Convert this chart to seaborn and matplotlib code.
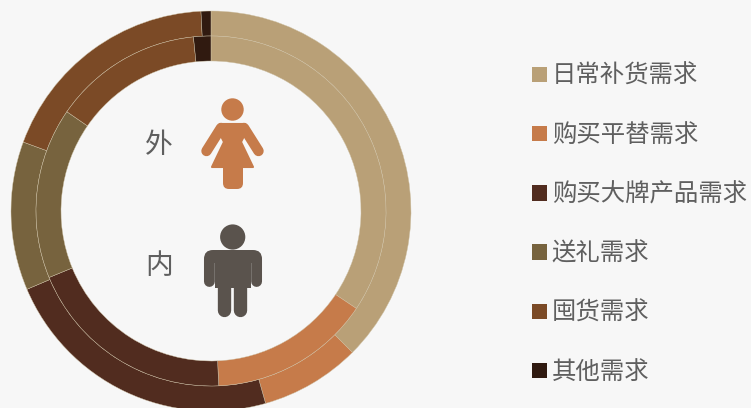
import matplotlib
matplotlib.use('Agg')
import matplotlib.pyplot as plt
import matplotlib.patches as mpatches
from matplotlib.path import Path
import seaborn as sns

categories = ['日常补货需求', '购买平替需求', '购买大牌产品需求', '送礼需求', '囤货需求', '其他需求']
outer_values = [37.5, 8.1, 23.0, 12.0, 18.6, 0.8]
inner_values = [34.4, 14.9, 19.5, 15.8, 13.8, 1.6]
colors = ['#b9a077', '#c67b4a', '#512c1f', '#77633e', '#7b4a26', '#301a10']

sns.set_theme(style='white')
plt.rcParams['font.family'] = ['Noto Sans CJK SC', 'DejaVu Sans']
palette = sns.color_palette(colors)
bg = '#f7f7f7'
text_color = '#5f5f5f'

fig = plt.figure(figsize=(7.51, 4.08), dpi=100, facecolor=bg)
ax = fig.add_axes([0, 0, 1, 1])
ax.set_facecolor(bg)

# 兩層環圖, 座標直接用像素, y 軸反向所以 startangle=-90 是正上方順時針
for values, r in [(outer_values, 200), (inner_values, 175)]:
    ax.pie(values, colors=palette, radius=r, center=(211, 211), startangle=-90,
           counterclock=True, frame=True,
           wedgeprops=dict(width=25, edgecolor='#cfc2a6', linewidth=0.3))

ax.set_xlim(0, 751)
ax.set_ylim(408, 0)
ax.set_aspect('equal')
ax.axis('off')

ax.text(159, 145, '外', fontsize=20, color=text_color, ha='center', va='center')
ax.text(159, 266, '内', fontsize=20, color=text_color, ha='center', va='center')

# 女生圖示
female = '#c67b4a'
ax.add_patch(mpatches.Circle((232.5, 109.5), 11.2, color=female, lw=0))
ax.add_patch(mpatches.Polygon([(220, 124), (245, 124), (248, 128), (241, 142), (253, 167), (212, 167), (224, 142), (217, 128)],
                              closed=True, facecolor=female, edgecolor=female, lw=1.5, joinstyle='round'))
for x0, x1 in [(221, 206.5), (244, 258.5)]:
    ax.plot([x0, x1], [128, 151], color=female, lw=7.5, solid_capstyle='round')
ax.add_patch(mpatches.FancyBboxPatch((223, 160), 20, 29, boxstyle='round,pad=0,rounding_size=6', facecolor=female, edgecolor='none'))

# 男生圖示
male = '#5a534d'
ax.add_patch(mpatches.Circle((232.7, 237), 12.6, color=male, lw=0))
shoulders = Path([(204, 263), (204, 259), (204, 250), (213, 250), (253, 250), (262, 250), (262, 259), (262, 263), (204, 263)],
                 [Path.MOVETO, Path.LINETO, Path.CURVE3, Path.CURVE3, Path.LINETO, Path.CURVE3, Path.CURVE3, Path.LINETO, Path.CLOSEPOLY])
ax.add_patch(mpatches.PathPatch(shoulders, facecolor=male, edgecolor='none', snap=False))
ax.add_patch(mpatches.Rectangle((215, 258), 36, 30, facecolor=male, edgecolor='none', snap=False))
for x in [209.4, 256.6]:
    ax.plot([x, x], [260, 281.5], color=male, lw=7.8, solid_capstyle='round', snap=False)
for x in [224.5, 240.5]:
    ax.plot([x, x], [280, 310.5], color=male, lw=9.6, solid_capstyle='round', snap=False)

handles = [mpatches.Patch(facecolor=c, edgecolor='none') for c in palette]
ax.legend(handles, categories, loc='upper left', bbox_to_anchor=(532, 63), bbox_transform=ax.transData,
          frameon=False, fontsize=17.6, labelcolor=text_color, borderpad=0, borderaxespad=0,
          handlelength=0.61, handleheight=0.61, handletextpad=0.2, labelspacing=1.36)

fig.savefig('out.png', dpi=100, facecolor=bg)
